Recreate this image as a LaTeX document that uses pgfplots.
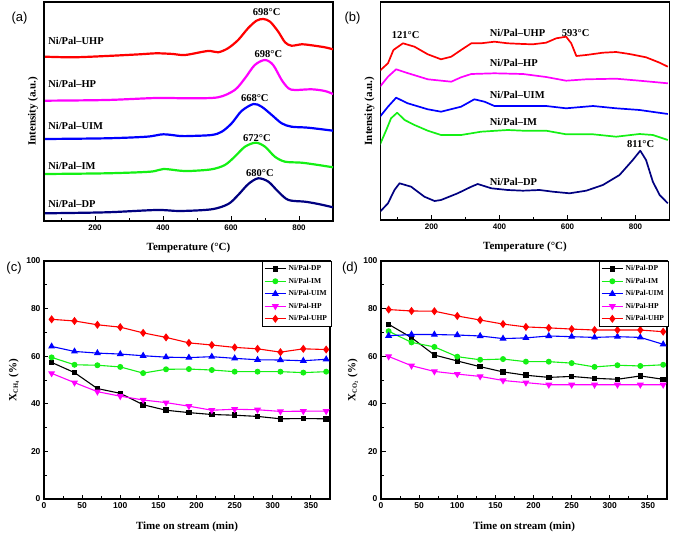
\documentclass[border=0pt]{standalone}
\usepackage{fontspec}
\setmainfont{Liberation Serif}
\setsansfont{Liberation Sans}
\usepackage{pgfplots}
\pgfplotsset{compat=1.18}

\definecolor{cred}{RGB}{255,0,0}
\definecolor{cmag}{RGB}{255,0,255}
\definecolor{cblue}{RGB}{0,0,255}
\definecolor{cgreen}{RGB}{20,240,20}
\definecolor{cnavy}{RGB}{0,0,128}

\tikzset{tlbl/.style={font=\fontsize{10.5}{12}\bfseries, inner sep=0pt}}

\pgfplotsset{
  panel/.style={
    scale only axis, clip mode=individual,
    axis line style={line width=1.5pt},
    tick style={black, line width=0.9pt},
    tick align=inside, tick pos=left,
    major tick length=4.5pt, minor tick length=2.8pt,
    tick label style={font=\fontsize{8}{9}\sffamily\bfseries},
    /pgf/number format/assume math mode=true,
    label style={font=\fontsize{11}{13}\bfseries},
  },
  tpr/.style={
    panel, width=289pt,
    xmin=50, xmax=900, xtick={200,400,600,800}, minor xtick={100,300,500,700},
    ytick=\empty,
    xlabel={Temperature (°C)}, ylabel={Intensity (a.u.)},
    xlabel style={at={(axis description cs:0.5,-0.123)}, anchor=center},
    ylabel style={at={(axis description cs:-0.02,0.5)}, anchor=south, inner sep=0pt},
  },
  tos/.style={
    panel, width=286pt, height=238pt,
    xmin=0, xmax=375, ymin=0, ymax=100,
    xtick={0,50,...,350}, minor x tick num=1,
    ytick={0,20,...,100}, minor y tick num=1,
    tick label style={font=\fontsize{8.5}{9}\sffamily\bfseries},
    xlabel={Time on stream (min)},
    xlabel style={at={(axis description cs:0.5,-0.116)}, anchor=center},
    legend style={at={(1.005,1)}, anchor=north east, draw=black, line width=0.8pt,
      font=\fontsize{7.5}{8}\bfseries, inner sep=2pt, row sep=1.8pt},
    legend cell align=left,
    legend image code/.code={\draw[mark repeat=2,mark phase=2]
      plot coordinates {(0cm,0cm) (0.38cm,0cm) (0.76cm,0cm)};},
    every axis plot/.append style={line width=1.1pt, mark size=2.4pt},
  },
}

\begin{document}
\begin{tikzpicture}
\useasboundingbox (0pt,0pt) rectangle (674pt,536pt);

% ---------- (a) H2-TPR ----------
\begin{axis}[tpr, height=219pt, ymin=0, ymax=219, at={(44pt,315pt)}, anchor=south west,
  every axis plot/.append style={line width=2.2pt, smooth, tension=0.5}]
\addplot[cred] coordinates {
 (53,164.3) (136,163.7) (234,165) (332,166.7) (381,167.7) (430,167) (465,166)
 (532,170) (562,168.7) (591,172.7) (621,181) (650,192.7) (675,200.3) (695,202)
 (715,199.3) (739,189.3) (759,178.7) (778,175.3) (808,176.7) (837,175.7) (876,173.7) (900,171.7)};
\addplot[cmag] coordinates {
 (53,120.3) (234,121) (381,123) (479,122.7) (562,123.7) (611,131) (641,142.7)
 (670,156) (700,161) (724,156) (749,141) (769,132.7) (788,131) (837,131.7) (876,130) (900,127)};
\addplot[cblue] coordinates {
 (53,82) (234,82.7) (352,84.3) (401,86.7) (450,85) (479,85) (543,86) (573,89.3)
 (602,97.7) (631,110) (666,117) (690,114.3) (720,106) (749,97.7) (778,94.3) (827,93.3) (900,90.3)};
\addplot[cgreen] coordinates {
 (53,47) (234,47.7) (362,49.3) (401,52) (450,50.3) (479,50) (543,51.7) (582,56)
 (611,64.3) (641,74.3) (673,78.3) (700,74.3) (729,64.3) (759,59.3) (808,58.3) (857,56) (900,53.7)};
\addplot[cnavy] coordinates {
 (53,7.7) (234,8.7) (381,11) (450,10) (543,11.7) (592,17) (621,26) (651,37)
 (680,42.7) (710,39.3) (739,29.3) (769,21) (818,19.3) (857,17) (900,13.7)};
\node[tlbl, anchor=west] at (axis cs:62,180) {Ni/Pal--UHP};
\node[tlbl, anchor=west] at (axis cs:62,136.7) {Ni/Pal--HP};
\node[tlbl, anchor=west] at (axis cs:62,95) {Ni/Pal--UIM};
\node[tlbl, anchor=west] at (axis cs:62,55.3) {Ni/Pal--IM};
\node[tlbl, anchor=west] at (axis cs:62,16.7) {Ni/Pal--DP};
\node[tlbl] at (axis cs:705,208.7) {698°C};
\node[tlbl] at (axis cs:710,167) {698°C};
\node[tlbl] at (axis cs:670,122.7) {668°C};
\node[tlbl] at (axis cs:676,83.3) {672°C};
\node[tlbl] at (axis cs:685,47.7) {680°C};
\end{axis}

% ---------- (b) CO2-TPD ----------
\begin{axis}[tpr, height=218pt, ymin=1, ymax=219, at={(380.5pt,316pt)}, anchor=south west,
  every axis plot/.append style={line width=1.7pt, line join=round}]
\addplot[cred] coordinates {
 (47,150) (72,157.7) (88,171) (116,177.7) (150,174.3) (189,166.7) (228,161.7)
 (258,164.3) (287,171) (317,177.7) (346,177.7) (385,179.3) (424,177.7) (469,177)
 (498,176.7) (537,178.3) (567,182.7) (596,184.3) (611,177.7) (626,165) (655,166)
 (704,168.3) (743,169) (782,167) (831,163.7) (871,158.3) (895,154.3)};
\addplot[cmag] coordinates {
 (47,133.7) (72,144.3) (96,151.7) (126,148.3) (189,141.7) (258,139.3) (287,143.7)
 (317,147) (385,147.7) (469,147) (537,144) (596,140.3) (655,141.7) (743,142.3)
 (812,140.3) (895,137.7)};
\addplot[cblue] coordinates {
 (47,103.7) (72,114.3) (96,123.3) (130,117.7) (189,111.7) (228,109.3) (287,114.3)
 (326,121.7) (356,119.3) (385,115) (469,115) (537,115) (596,112.7) (675,115)
 (743,112.7) (812,111) (895,107)};
\addplot[cgreen] coordinates {
 (47,75.3) (67,91) (81,102.7) (99,108.3) (121,101) (150,96) (189,90.3) (228,86)
 (287,86) (346,89.3) (424,91) (469,90.3) (537,90.3) (596,86.7) (675,86.7)
 (743,84.3) (812,87) (851,86) (895,81)};
\addplot[cnavy] coordinates {
 (47,8.7) (72,17.7) (91,31) (106,37.7) (140,34.3) (179,24.3) (209,20) (228,21)
 (277,27.7) (317,34.3) (336,37) (376,32.7) (424,31) (469,30.3) (518,31) (557,29.3)
 (606,27.7) (655,30.3) (704,36) (753,46) (792,61) (814,70.3) (831,61) (851,39.3)
 (871,26) (895,17.7)};
\node[tlbl] at (axis cs:124,186) {121°C};
\node[tlbl, anchor=west] at (axis cs:371,188.3) {Ni/Pal--UHP};
\node[tlbl] at (axis cs:624,188.3) {593°C};
\node[tlbl, anchor=west] at (axis cs:371,157.7) {Ni/Pal--HP};
\node[tlbl, anchor=west] at (axis cs:371,126) {Ni/Pal--UIM};
\node[tlbl, anchor=west] at (axis cs:371,99.3) {Ni/Pal--IM};
\node[tlbl, anchor=west] at (axis cs:371,39.3) {Ni/Pal--DP};
\node[tlbl] at (axis cs:815,77) {811°C};
\end{axis}

% ---------- (c) CH4 conversion ----------
\begin{axis}[tos, at={(44pt,37pt)}, anchor=south west,
  ylabel={X\textsubscript{\fontsize{6.5}{6.5}\selectfont CH\textsubscript{4}} (\%)},
  ylabel style={at={(axis description cs:-0.087,0.5)}, anchor=south, inner sep=0pt}]
\addplot[black, mark=square*, mark size=2.2pt] coordinates {
 (10,57.4) (40,53.1) (70,46.4) (100,44.4) (130,39.6) (160,37.3) (190,36.3)
 (220,35.5) (250,35.2) (280,34.7) (310,33.7) (340,33.8) (370,33.7)};
\addlegendentry{Ni/Pal-DP}
\addplot[cgreen, mark=*] coordinates {
 (10,59.5) (40,56.4) (70,56.2) (100,55.5) (130,52.9) (160,54.5) (190,54.6)
 (220,54.2) (250,53.5) (280,53.5) (310,53.5) (340,53.1) (370,53.5)};
\addlegendentry{Ni/Pal-IM}
\addplot[cblue, mark=triangle*, mark size=3pt] coordinates {
 (10,64.1) (40,62.0) (70,61.3) (100,60.9) (130,60.2) (160,59.6) (190,59.4)
 (220,59.8) (250,59.1) (280,58.5) (310,58.4) (340,58.1) (370,58.7)};
\addlegendentry{Ni/Pal-UIM}
\addplot[cmag, mark=triangle*, mark size=3pt, mark options={rotate=180}] coordinates {
 (10,52.8) (40,48.9) (70,45.1) (100,43.2) (130,41.6) (160,40.5) (190,39.0)
 (220,37.3) (250,37.7) (280,37.5) (310,36.8) (340,36.9) (370,36.9)};
\addlegendentry{Ni/Pal-HP}
\addplot[cred, mark=diamond*, mark size=3.2pt] coordinates {
 (10,75.5) (40,74.8) (70,73.2) (100,72.2) (130,69.8) (160,67.9) (190,65.6)
 (220,64.7) (250,63.7) (280,63.1) (310,61.7) (340,63.1) (370,62.8)};
\addlegendentry{Ni/Pal-UHP}
\end{axis}

% ---------- (d) CO2 conversion ----------
\begin{axis}[tos, at={(381pt,37pt)}, anchor=south west,
  ylabel={X\textsubscript{\fontsize{6.5}{6.5}\selectfont CO\textsubscript{2}} (\%)},
  ylabel style={at={(axis description cs:-0.08,0.5)}, anchor=south, inner sep=0pt}]
\addplot[black, mark=square*, mark size=2.2pt] coordinates {
 (10,73.4) (40,67.8) (70,60.5) (100,58.0) (130,55.6) (160,53.4) (190,52.0)
 (220,51.1) (250,51.5) (280,50.7) (310,50.3) (340,51.7) (370,50.3)};
\addlegendentry{Ni/Pal-DP}
\addplot[cgreen, mark=*] coordinates {
 (10,70.5) (40,65.8) (70,63.9) (100,59.8) (130,58.5) (160,58.8) (190,57.7)
 (220,57.7) (250,57.1) (280,55.5) (310,56.2) (340,55.9) (370,56.4)};
\addlegendentry{Ni/Pal-IM}
\addplot[cblue, mark=triangle*, mark size=3pt] coordinates {
 (10,68.6) (40,69.1) (70,69.1) (100,68.9) (130,68.5) (160,67.4) (190,67.7)
 (220,68.5) (250,68.2) (280,67.9) (310,68.2) (340,67.9) (370,65.0)};
\addlegendentry{Ni/Pal-UIM}
\addplot[cmag, mark=triangle*, mark size=3pt, mark options={rotate=180}] coordinates {
 (10,59.9) (40,56.0) (70,53.6) (100,52.5) (130,51.5) (160,49.8) (190,48.9)
 (220,48.0) (250,48.0) (280,48.0) (310,48.0) (340,48.0) (370,48.0)};
\addlegendentry{Ni/Pal-HP}
\addplot[cred, mark=diamond*, mark size=3.2pt] coordinates {
 (10,79.6) (40,79.0) (70,78.9) (100,76.9) (130,75.2) (160,73.5) (190,72.3)
 (220,71.9) (250,71.4) (280,71.0) (310,71.0) (340,71.0) (370,70.3)};
\addlegendentry{Ni/Pal-UHP}
\end{axis}

\node[font=\fontsize{13}{14}\sffamily] at (19.5pt,518pt) {(a)};
\node[font=\fontsize{13}{14}\sffamily] at (352.5pt,518pt) {(b)};
\node[font=\fontsize{13}{14}\sffamily] at (14pt,268pt) {(c)};
\node[font=\fontsize{13}{14}\sffamily] at (350pt,268pt) {(d)};
\end{tikzpicture}
\end{document}
